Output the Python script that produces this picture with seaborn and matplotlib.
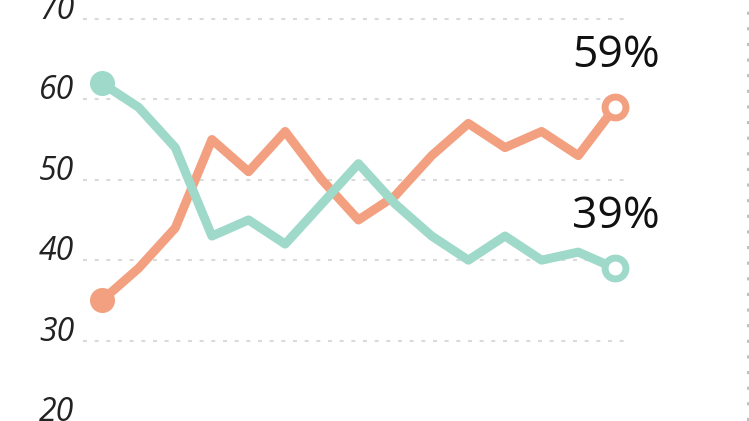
import pandas as pd
import matplotlib.pyplot as plt
import seaborn as sns
from matplotlib.lines import Line2D

# data
periods = list(range(15))
orange_vals = [35, 39, 44, 55, 51, 56, 50, 45, 48, 53, 57, 54, 56, 53, 59]
teal_vals = [62, 59, 54, 43, 45, 42, 47, 52, 47, 43, 40, 43, 40, 41, 39]
series_names = ["orange", "teal"]
end_labels = ["59%", "39%"]
yticks = [20, 30, 40, 50, 60, 70]

colors = {"orange": "#F3A080", "teal": "#9FD9CA"}

df = pd.DataFrame({
    "period": periods * 2,
    "value": orange_vals + teal_vals,
    "series": ["orange"] * len(periods) + ["teal"] * len(periods),
})

sns.set_style("white")
plt.rcParams['font.family'] = ['Open Sans', 'DejaVu Sans']

fig = plt.figure(figsize=(7.49, 4.21), dpi=100)
ax = fig.add_axes([80 / 749, 0, 669 / 749, 1])

# dotted grid lines (the 20 line sits below the picture)
for v in yticks[1:]:
    ax.axhline(v, xmin=3 / 669, xmax=548 / 669, color="#dadada", lw=1.5,
               linestyle=(0, (1.9, 3.7)), zorder=0)

sns.lineplot(data=df, x="period", y="value", hue="series", palette=colors,
             hue_order=series_names, lw=6.5, legend=False, ax=ax)

for name, vals, lab in zip(series_names, [orange_vals, teal_vals], end_labels):
    c = colors[name]
    ax.plot(periods[0], vals[0], "o", ms=17, color=c, mew=1, zorder=5)
    ax.plot(periods[-1], vals[-1], "o", ms=15, mfc="white", mec=c, mew=5, zorder=5)
    ax.annotate(lab, (periods[-1], vals[-1]), xytext=(1, 29),
                textcoords="offset points", ha="center", va="baseline",
                fontsize=32, color="#111111")

ax.set_xlim(-0.6, 17.66)
ax.set_ylim(20.37, 72.35)
ax.set_xticks([])
ax.set_yticks(yticks)
ax.set_yticklabels([str(t) for t in yticks], fontsize=23, style="italic",
                   color="#222222")
for lbl in ax.get_yticklabels():
    lbl.set_va("baseline")
ax.tick_params(axis="y", length=0, pad=4)
ax.set_xlabel("")
ax.set_ylabel("")
sns.despine(ax=ax, left=True, bottom=True)

# faint dotted rule at the right edge
fig.add_artist(Line2D([747.5 / 749, 747.5 / 749], [0, 1], color="#c0c0c0",
                      lw=1.5, linestyle=(0, (1.5, 6)), transform=fig.transFigure))

fig.savefig("out.png", dpi=100)
